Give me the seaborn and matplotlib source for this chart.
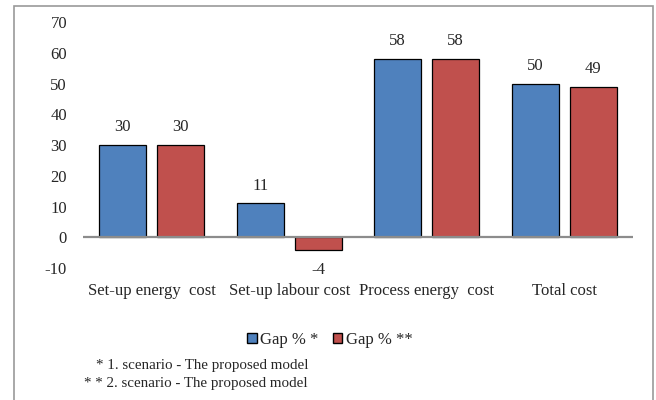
import matplotlib
matplotlib.use("Agg")
import matplotlib.pyplot as plt
import seaborn as sns
import pandas as pd
from matplotlib.patches import Rectangle, Patch

categories = ["Set-up energy cost", "Set-up labour cost", "Process energy cost", "Total cost"]
gap_s1 = [30, 11, 58, 50]
gap_s2 = [30, -4, 58, 49]
series_names = ["Gap % *", "Gap % **"]
colors = ["#4F81BD", "#C0504D"]
yticks = [-10, 0, 10, 20, 30, 40, 50, 60, 70]
tick_labels = ["Set-up energy  cost", "Set-up labour cost", "Process energy  cost", "Total cost"]
footnotes = ["* 1. scenario - The proposed model", "* * 2. scenario - The proposed model"]

df = pd.DataFrame({
    "category": categories * 2,
    "value": gap_s1 + gap_s2,
    "series": [series_names[0]] * 4 + [series_names[1]] * 4,
})

sns.set_theme(style="white")
plt.rcParams["font.family"] = ["Liberation Serif", "DejaVu Serif"]

fig = plt.figure(figsize=(6.56, 4.0), dpi=100)
ax = fig.add_axes([83 / 656, 1 - 268 / 400, 550 / 656, 246 / 400])

sns.barplot(data=df, x="category", y="value", hue="series", order=categories,
            hue_order=series_names, palette=colors, width=0.844, gap=0.19,
            edgecolor="black", linewidth=0.9, saturation=1, legend=False, ax=ax)

ax.set_ylim(-10, 70)
ax.set_yticks(yticks)
ax.set_yticklabels([str(v) for v in yticks], fontsize=12)
ax.set_xticks(range(len(categories)))
ax.set_xticklabels(tick_labels, fontsize=12)
ax.tick_params(axis="both", length=0)
ax.tick_params(axis="y", pad=11.5)
ax.tick_params(axis="x", pad=11)
ax.set_xlabel("")
ax.set_ylabel("")
for s in ax.spines.values():
    s.set_visible(False)
ax.axhline(0, color="#8c8c8c", linewidth=1.6, zorder=5)

# value labels
for container in ax.containers:
    for bar in container:
        h = bar.get_height()
        xc = bar.get_x() + bar.get_width() / 2
        if h >= 0:
            ax.annotate(f"{h:.0f}", (xc, h), xytext=(0, 7), textcoords="offset points",
                        ha="center", va="bottom", fontsize=12)
        else:
            ax.annotate(f"{h:.0f}", (xc, h), xytext=(0, -9), textcoords="offset points",
                        ha="center", va="top", fontsize=12)

handles = [Patch(facecolor=c, edgecolor="black", linewidth=1.0) for c in colors]
fig.legend(handles, series_names, loc="center", bbox_to_anchor=(330 / 656, 1 - 340 / 400),
           ncol=2, frameon=False, fontsize=12, handlelength=0.55, handleheight=0.55,
           handletextpad=0.2, columnspacing=0.9)

fig.text(308 / 656, 1 - 366 / 400, footnotes[0], ha="right", va="center", fontsize=10.8)
fig.text(308 / 656, 1 - 384 / 400, footnotes[1], ha="right", va="center", fontsize=10.8)

fig.patches.append(Rectangle((14 / 656, -0.02), 639 / 656, 1 - 6 / 400 + 0.02,
                             transform=fig.transFigure, fill=False,
                             edgecolor="#9a9a9a", linewidth=1.2))

fig.savefig("out.png", dpi=100)
